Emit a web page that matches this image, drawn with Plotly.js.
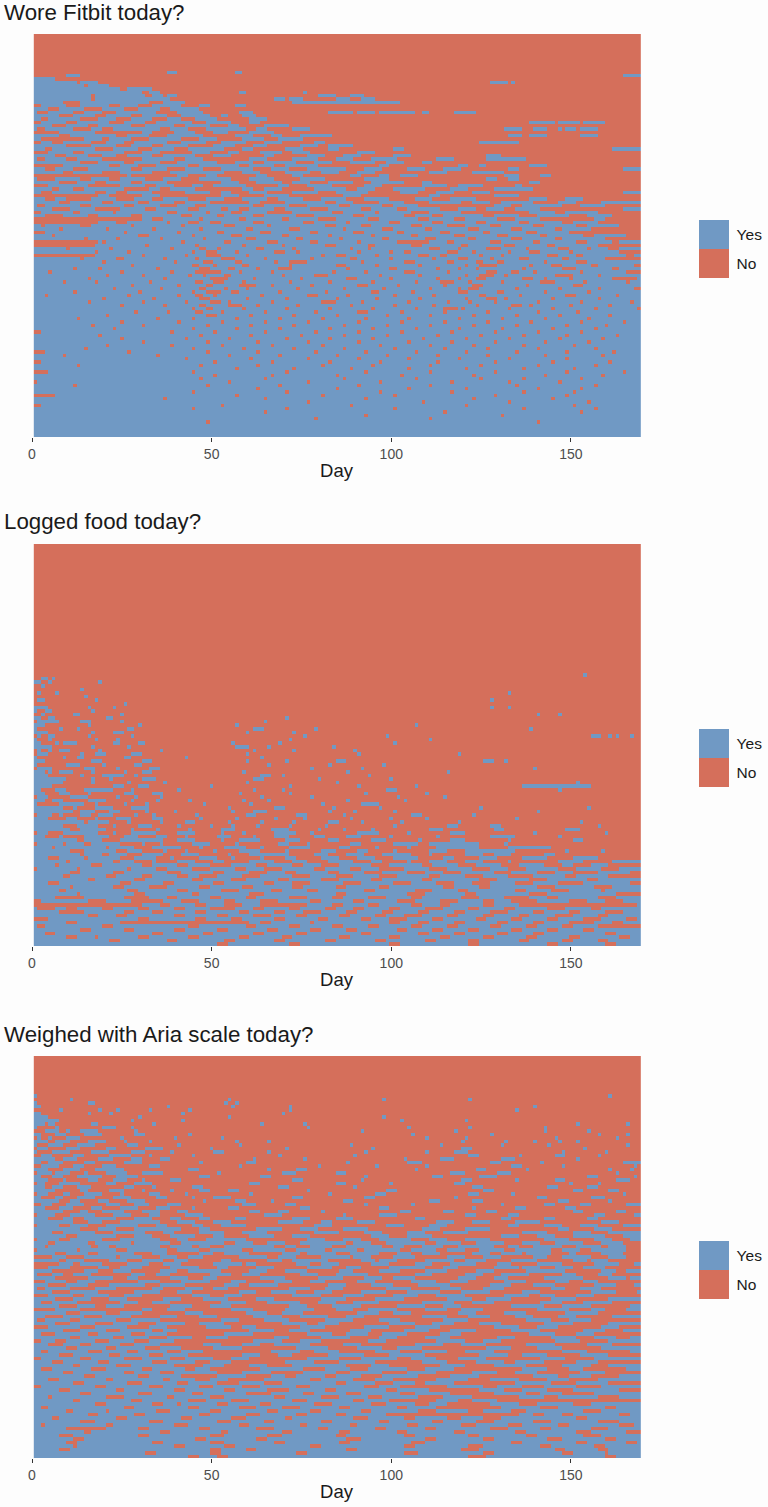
<!DOCTYPE html>
<html><head><meta charset="utf-8">
<script src="https://cdn.plot.ly/plotly-3.0.1.min.js"></script>
<style>html,body{margin:0;padding:0;background:#fdfdfd}</style></head>
<body><div id="chart" style="width:768px;height:1507px"></div>
<script>
// Each row (top to bottom): "Y ..." lists the days answered Yes (all others No);
// "N ..." lists the days answered No (all others Yes). Runs are hand-estimated by eye from the picture.
const days = Array.from({length:169},(_,i)=>i+1);
const legendLabels = ["No","Yes"];
const panelTitles = ["Wore Fitbit today?","Logged food today?","Weighed with Aria scale today?"];
const tickDays = [0,50,100,150];

const fitbitRows = [
"Y","Y","Y","Y","Y","Y","Y","Y","Y","Y","Y",
"Y 38-40 57-58",
"Y 10-13 165-169",
"Y 1-6",
"Y 1-12 14-18 128-132 134",
"Y 1-14 16-21",
"Y 1-24 27-33",
"Y 1-30 33-35 58-59 76",
"Y 1-16 18-31 34-36 38-40 80-84 89-92",
"Y 1-16 18-38 68-70 72-75 85-88 92-95",
"Y 1-8 14-32 37-42 73-94 95-102",
"N 1-2 10-13 22-24 30-33 42-46 50-56 60-169",
"N 5-7 15-19 26-29 36-38 47-169",
"N 2-4 12-14 20-23 35-40 48-57 62-82 90 96 107-108 111-117 124-169",
"N 8-11 18-20 28-30 38-41 50-52 55-58 63-169",
"N 3-4 14-18 24-27 34-37 42-45 52-60 66-169",
"N 1-2 10-12 22-25 32-34 45-48 56-60 64-138 146 153 160-169",
"N 6-9 16-18 28-31 40-42 50-54 58-64 72-169",
"N 2-3 12-16 20-22 36-38 44-48 60-62 66-72 78-131 137-139 144-146 148 152 158-169",
"N 1-7 18-30 34-39 46-50 55-60 68-169",
"N 8-10 24-26 33-37 48-56 62-66 70-74 84-132 137-138 144-152 158-169",
"N 3-14 20-21 28-32 42-46 52-58 65-68 76-169",
"N 1-2 6-8 17-20 26-28 38-41 49-52 60-64 70-78 82-124 136-169",
"N 10-16 24-27 34-36 44-50 57-61 66-74 80-82 90-169",
"N 4-5 18-22 30-33 40-43 54-58 62-70 76-82 86-100 104-161",
"N 1-4 12-14 26-30 36-44 50-54 58-63 70-72 78-90 96-169",
"N 7-9 16-19 24-26 34-36 46-50 56-64 68-76 82-86 92-100 106-126 131-169",
"N 2-3 10-12 20-30 40-42 48-60 66-72 80-84 90-94 102-112 118-126 138-169",
"N 14-18 26-28 36-40 52-56 62-64 74-78 84-88 96-98 104-108 112-169",
"N 1-8 22-24 30-34 44-46 58-60 68-70 80-96 100-118 122-124 127-138 144-169",
"N 4-6 12-15 28-30 38-42 48-52 62-66 72-76 88-92 98-104 110-114 120-132 136-164",
"N 9-11 20-24 34-38 54-58 64-70 78-80 86-90 96-110 116-122 132-169",
"N 1-26 28-40 44-48 52-62 66-72 76-88 92-96 100-102 108-131 136-141 145-169",
"N 2-6 14-16 22-24 32-36 42-46 56-60 68-74 82-92 100-126 130-132 136-169",
"N 8-12 18-20 28-30 38-52 58-62 70-72 78-82 90-94 104-108 112-138 142-169",
"N 1-4 16-24 32-34 40-44 48-50 60-68 72-76 84-92 98-108 116-118 126-134 137-169",
"N 6-7 12-14 26-32 36-38 46-58 62-64 70-78 88-90 96-100 110-116 122-128 140-169",
"N 3-5 18-20 24-26 34-42 50-52 56-60 66-72 80-84 94-102 108-112 118-122 128-164",
"N 1-18 22-30 36-52 58-64 72-86 92-110 114-128 136-169",
"N 4-6 10-16 24-28 34-36 44-48 54-58 66-68 76-80 88-92 100-106 112-116 124-138 144-148 154-169",
"N 8-10 20-22 30-32 40-42 50-60 64-70 82-84 90-96 104-110 120-122 128-130 140-146 152-158",
"N 2-3 14-16 26-28 36-40 46-48 62-64 72-76 86-88 98-100 108-128 134-136 148-152 160-169",
"N 6-10 18-24 32-34 44-46 53-54 58-60 68-70 78-82 92-94 102-104 114-118 124-126 132-134 142-164",
"N 1-2 12-13 23 38-40 49 56-58 66-72 84-86 96 106-110 120-138 146-148 158-169",
"N 4-8 16-18 28-30 42-44 52-53 62-64 74-78 90-92 104-106 112-114 126-128 136-140 150-154 162-169",
"N 1-30 34-36 47 58-59 70-71 80-84 94-96 108-110 118-120 130-134 142-156 160-169",
"N 1-18 24-26 38 44-46 50-52 62-64 76-78 88 100-102 112-114 124-126 136-138 148-150 158-169",
"N 3 14-16 28 42 54-56 66 82-84 92-94 106-108 116-120 128-130 140-142 152-154 164-169",
"N 8 21 34 47 60-61 72-74 87 98-100 110-111 122-124 134-136 146-147 156-169",
"N 1-3 26 41 52-53 64-66 78-79 90-92 102-103 114-116 126-127 138-140 150-169",
"N 6 30-32 45 56-58 70-71 83 95 106-107 118-120 130-132 142-143 154-156 166-169",
"N 15 24 36 48 60-62 74-75 86 98-99 110-112 122-123 134-136 146-147 160-169",
"N 1-18 20 42 54-55 66-68 78-79 91 102-110 116-117 128-130 140-141 152-154 162-163",
"N 1-17 32 46 59 70 82-84 94-95 106-108 120-121 132-134 144-145 158-169",
"N 10 22 39 47-48 52 63-64 73 89 94 111-113 119 127-130 138 147-149 155 161-163",
"N 18 27 45 49-51 57 68-70 74 91 100 104-105 116-118 123 133 139-141 150 164-169",
"N 1-17 31 43 49-52 60 81 85-87 96 108-110 114-115 125 131 144-146 152-153 166-167",
"N 14 24-25 37 46 53-56 65 78 89-90 100 112 119-121 128 136-138 148-149 160-169",
"N 20 40 48-50 57-58 68 72-76 92 104-106 116-117 124-125 130-131 143 152-154",
"N 28 45-46 51 59-60 72 85-87 96 108 121 125-129 139 145-147 156-157 168-169",
"N 12 19 35 47-49 55-56 63 69-72 88 100-101 113 119 124 137 148-151 162-163",
"N 5 25 39 46-52 58 67 84 93 104-106 116 127-129 134-135 140 153 166-169",
"N 21 31 44 48 54-55 70 79-82 97 108 121 125-128 132 146-150 158",
"N 16 37 50-54 62 75 88-90 100 113 119 124-126 137-139 143 150 162-168",
"N 9 18 33 46-47 51-53 59 72 83 95 107 114-117 122 131 142-145 154 166",
"N 28 41 49-50 58-62 67 78 91-93 102 115 123-125 138 151-153",
"N 23 36 47-48 54 60 74 87 98 111 119 122-124 135 147 158 168-169",
"N 12 30 45 49-52 56-57 69 82 95-96 106 119-121 130-131 143 155",
"N 4 27 41 46-47 51 64 77-79 88 101 112 125-126 136 149-151 163",
"N 20 34 47-49 60 71 85 96 108 121 127-129 132 145 158",
"N 16 31 43 50-52 55 67 81-84 92 105 116 122 129 141 153 167",
"N 25 37 47-48 55-58 63 74 89 101 112 124 134-136 139 150 161",
"N 45 49-50 59 71 83 95 107 115-118 120 133 145 157 169",
"N 29 38 46-47 53 65 79 91-93 103 115 127 141 152",
"N 21 49-51 61 73 85 99 111 123 135 147 161",
"N 13 35 45 57 69 81 93 105 119 131 143 155",
"N 25 41 53 65 77 91 103 115 127 139 153 165",
"N 17 31 49 61 73 87 99 111 123 135 149 160",
"N 23 45 57 69 83 95 107 119 131 145 157",
"N 1-2 39 51 65 79 91 103 117 129 141 153",
"N 19 47 61 75 87 99 113 125 137 149 163",
"N 25 43 55 71 83 95 109 121 133 147 159",
"N 31 49 63 77 91 105 117 129 143 155",
"N 21 39 53 67 81 97 111 123 137 151",
"N 15 45 59 73 87 101 115 127 141 157",
"N 1-3 27 49 63 79 93 107 121 135 149 162",
"N 9 35 55 69 85 99 113 127 143 159",
"N 43 61 77 91 105 119 133 149",
"N 1-2 51 67 83 97 113 129 145 161",
"N 13 47 63 81 95 111 125 141 157",
"N 57 73 89 105 121 137 151",
"N 1-4 45 71 93 111 129 149 165",
"N 51 67 85 103 123 143 159",
"N 47 65 87 107 125 137 153",
"N 1 55 77 97 117 133 147",
"N 12 49 69 91 111 135 157",
"N 63 85 105 121 141 153",
"N 45 71 97 117 137 151",
"N 1-6 57 81 101 129 149",
"N 37 65 93 123 145",
"N 77 109 133 155",
"N 1-2 53 89 121 151",
"N 45 71 101 137 157",
"N 65 115 153",
"N 93 131",
"N 79 111",
"N 49 141",
"N","N","N","N"
];

const foodRows = [
"Y","Y","Y","Y","Y","Y","Y","Y","Y","Y","Y","Y","Y","Y","Y","Y","Y","Y","Y","Y","Y","Y","Y","Y","Y","Y","Y","Y","Y","Y","Y","Y","Y","Y","Y","Y",
"Y 154","Y 3-4 6","Y 1-2 5 19","Y 3","Y 14","Y 2 7 133","Y 15","Y 2-3 18 128","Y 26",
"Y 1-4 16 23 128 133","Y 1 4-5 17","Y 3 12-13 25 141 147","Y 1-2 5-6 21-22 71","Y 2-7 14-16 25 65",
"Y 1-3 16 30 57 107","Y 1 8 13 27-28 62-64 79 139",
"Y 1-4 17 23-25 60 73","Y 2 5-6 16 28 76 99 156-158 161 163 167","Y 1 5 18 24 72 111",
"Y 1-2 7 9-12 23-24 30-31 56 69 101","Y 1-5 17 27 57-60 66 84",
"Y 2 5 8-10 19 36 62 73 90","Y 2-4 14 18-20 28-30 60 91 119","Y 1 9 13-14 26-27 43 64",
"Y 1-3 17-19 31-33 60 71 85-87 126-128 132","Y 1 10-13 20 29-30 66 83 98",
"Y 2-5 15-17 24 33-35 78 92 140","Y 1-3 5 8-11 17 26 31-33 59 88 116","Y 1-4 14 20-25 29 64-66 70 94",
"Y 1-9 17 22 31-34 62-64 80 100","Y 1-8 17 27 37 60 85 152",
"Y 1-5 23-25 30-32 50 72 91 107 137-155","Y 1-2 7-9 15-22 28 41 62 70 99-101 147","Y 1-3 8-10 16 26-28 34-36 58 72 93 110",
"Y 2-4 11-15 24 29 36 64 78 102 115","Y 1-3 6-8 16-20 28 35 44 59 66 88 104",
"Y 1 8-14 18 26 32 48 61 81 92-96","Y 1-8 12 18-22 28-32 55 68-70 84 97 125 155",
"Y 1-11 14-17 22-24 32 40 56 62-65 83 90 101 141","Y 2-5 8 14-16 19-22 29 34 46 60-62 74-76 87 106-108 123",
"Y 1-4 10-12 18 24-27 34-36 47 57 68 76 89 100 110 135","Y 1-14 16-21 27 36 43-45 55 64 73 83-85 92 103 119 153",
"Y 1-8 13-18 23 30-33 41 50 56 63 72 82 101 116-118 128-130 158",
"Y 1-10 14-20 28 35 44 53-56 67-71 80 87 95 111-114 129-131 149-152","Y 2-4 9-18 23 28-34 41-45 53 59 68-73 78 91-96 105 117-120 140 160",
"Y 1-3 8 15-21 26-29 35-37 43 52-55 62 68-71 79-81 88-91 100 113 128-134 147",
"Y 1-12 15-19 25-36 41-45 53 58-63 71-74 83-85 95-98 108 117-120 133 151-153","Y 2-8 10-14 17-24 31 36 45-49 57 69-71 77 89-91 101-107 111-124 132",
"Y 1-5 7-20 22-28 34-41 47 54-59 64 72-77 86-88 96 105 113-124 133-144","Y 1-10 15-23 27-30 37 43 51 58-63 71 81-84 91-93 101 111-115 121-134 149 159",
"Y 1-13 15-19 22-26 31-36 42-46 55 61-71 79-82 88-92 98-105 111 121-125 129-133 143-145","Y 1-4 8-14 16-24 29-34 39 47-51 56 64 71-73 81-85 91-95 101-107 115-117 125-129 137-143 151-157",
"Y 1-9 11-22 25-28 34 41-45 51-53 61-67 73-76 83-89 95-97 105 111-115 121-125 133 147-153 162-169",
"Y 1-6 8-16 20-30 34-40 44-49 56-62 66-72 76-80 86-94 100-108 112-118 124-130 136-142 148-150 156-160","Y 2-12 14-26 28-34 38-44 50-56 60-64 70-78 82-88 92-96 104-110 116-122 128-132 138-146 152-158 164-169",
"Y 1-10 14-22 26-37 42-50 54-60 66-70 74-82 86-92 98-104 110-114 120-128 134-140 146-150 158-166","Y 1-8 11-20 24-30 34-40 44-46 52-58 64-72 78-84 90-96 102-110 114-120 126-132 140-148 152-160",
"Y 1-15 18-28 32-44 48-55 60-68 72-80 86-94 98-108 112-124 130-138 144-154 158-169","Y 1-4 8-24 28-36 40-50 54-64 68-72 78-86 92-100 106-112 118-122 128-134 140-146 154-166",
"Y 1-10 12-22 26-32 38-46 50-58 62-72 76-84 88-96 100-114 118-124 128-140 146-156 162-169","Y 1-7 10-26 30-40 44-52 58-66 70-76 80-92 96-106 112-118 122-134 138-144 150-158 160-169",
"Y 1-12 14-28 32-44 47-60 65-84 88-104 110-120 124-138 144-162",
"Y 1-6 15-25 33-37 41-49 53-59 63-71 77-83 87-93 99-105 109-119 125-131 139-143 147-157 163-169",
"Y 3-15 21-27 37-41 47-53 57-63 69-77 81-89 93-101 107-113 119-125 129-133 141-149 155-159 165-169",
"N 1-30 36-38 46-48 54-58 64-76 84-86 94-96 106-108 114-116 126-128 136-168",
"N 2-6 10-12 20-22 30-32 40-42 50-56 62-64 72-74 82-84 90-92 100-102 110-114 122-124 132-134 144-148 156-158",
"N 8-14 26-28 34-36 46-48 58-60 68-70 76-80 88-90 98-100 108-110 118-120 128-132 140-142 150-152 160-164",
"N 16-18 24-26 40-42 52-54 62-66 74-76 86-88 96-98 104-108 116-118 126-128 136-138 146-150 158-160",
"N 1-4 30-32 46-48 56-58 68-70 80-82 92-94 100-104 112-114 124-126 134-136 144-146 154-158 166-168",
"N 10-12 25-60 64-66 78 100-102 108-110 118-120 130-132 140-142 150-156 162-164",
"N 2-3 20-22 44-46 60-62 72-74 84-86 94-96 106-108 116-118 128-130 138-140 148-150 158-169",
"N 14-16 26-28 40-42 52-54 66-68 78-80 88-90 102-104 112-114 122-124 134-136 144-146 154-156",
"N 4-6 34-36 48-50 62-64 74-76 92-94 108-110 118-120 130-132 140-142 160-162",
"N 10-12 18 30-32 44-46 58-60 70-72 86-88 100-102 114-116 126-128 138-140 150-152 164-166",
"N 22-24 38-40 54-56 68-70 82-84 96-98 110-112 122-124 136-138 148-150 158-160",
"N 52-54 72-74 100-102 122-124 144-146 160-162"
];

const ariaRows = [
"Y","Y","Y","Y","Y","Y","Y","Y","Y","Y","Y",
"Y 1 161",
"Y 11 55 98 122",
"Y 1 16-17 54 57",
"Y 1-2 38 56 72 140",
"Y 8 19 24 33 44 72 135",
"Y 1-2 16 22 42 70",
"Y 1-4 30 55 98",
"Y 1-7 28 42 103 121",
"Y 1-3 5-6 17-18 34 64 76 152 166",
"Y 1 7 20-23 28 77 105 122 143",
"Y 4-7 10 14-18 29 92 118 143 155",
"Y 1-2 7-9 15-19 29-31 44 106 128 158 166",
"Y 2 5 10-13 25 40 53 110 121 146 163",
"Y 1-4 7-10 16-20 26 33 57 66 120 132 140 147 152",
"Y 1 5-8 13-17 27-29 41 58 89 114 131 144 166",
"Y 2-4 10-13 21-23 32-36 50 71 95 120-122 154",
"Y 1 6-10 17-21 28-31 39 51-53 66 93 110 118-121 148 160",
"Y 3-5 12-14 22-27 33 45 69 90 122-124 136 146-148 158",
"Y 1-6 9-12 19-22 28-30 36-38 62 76 104 114-117 131-134 152",
"Y 1-2 5-8 15-17 26-30 47 60-62 88 105-108 128-130 142 165-169",
"Y 3-7 12-14 20-23 33-35 58 80 96 110 134-136 148 168",
"Y 1-4 9-13 18-25 44-46 66 74-76 107 124-126 138 161 167",
"Y 2-5 7-10 15 21-26 31-36 52 70-73 85-87 117-120 130-133 163",
"Y 1-2 6-8 13-19 24-29 47-49 64-66 93 112-114 125-129 155-157 168",
"Y 1-4 9 16-18 23-26 31 39-41 73-75 92 120-122 135 146-148 163-166",
"Y 2-3 8-13 21-23 29-33 61-63 85-87 100 118-120 150 158",
"Y 1-3 6-8 13-16 26-28 34 45-47 69-71 90 123-125 144-146 155-157",
"Y 1-6 14-15 22-25 31 39 47-49 55-57 77 99-101 126-128 151-153 161-163",
"Y 2-4 9-10 15-19 25 33-35 43 61 83 96-98 122-124 134 165",
"Y 1-2 7-8 13-17 23-27 35-37 45 51-55 73-75 93-95 118 141-143 156-159",
"Y 1-7 11-13 19-21 27-31 48 57-59 67 87-89 111-113 123-125 147-149 161",
"Y 3-5 10-14 21-24 29-32 38-41 59-62 71-73 93 106 131 143-145 153-155 166-169",
"Y 1-3 8-11 17-19 25-29 35-38 45 55-57 75-77 97-99 123 135-137 149-151",
"Y 1-8 14-15 20-25 31-35 41-43 61-63 69-71 81 103-105 115-117 127-129 151-153 163-165",
"Y 2-6 11-17 23-27 33-35 43-47 65-69 87 97-101 121-123 133-135 157-159 168-169",
"Y 1-4 9-11 15-23 29-33 39-41 47-49 57-59 73-77 85-89 107-109 131-133 143-145 155-157",
"Y 1-11 16-19 25-35 41-45 51-55 69-75 81-83 91-95 113-117 123-127 135-141 159-163",
"Y 2-7 11-15 21-29 35-37 45-47 53-59 79-83 99-103 111-115 133-135 143-147 153-157 165-169",
"Y 1-13 19-23 29-41 47-49 63-69 75-79 87-93 109-113 121-127 147-149 157-161",
"Y 1-5 9-17 23-31 37-39 47-53 59-65 79-85 93-97 105-109 115-121 137-143 151-155 161-169",
"Y 1-9 13-23 29-33 39-45 51-53 61-67 73-77 95-99 105-111 131-135 141-145 151-159 165-169",
"Y 2-7 11-19 25-35 41-43 49-59 77-81 87-91 97-105 111-115 121-127 143-149 157-161 167-169",
"Y 1-4 7-15 18-27 29-38 42-53 57-61 66-70 75-87 90-94 99-109 113-119 124-131 137-141 146-153 159-164",
"Y 1-3 5-16 19-21 24-35 39-44 47-49 54-67 71-73 78-83 88-97 101-103 109-114 119-128 133-135 140-147 152-158 161-165",
"Y 2-12 14-23 27-37 41-46 50-58 62-70 74-81 84-90 93-102 106-112 116-120 125-131 135-144 148-152 156-165",
"Y 1-6 10-15 19-28 34-37 47-50 54-60 70-74 77-84 89-96 102-105 109-113 123-127 131-136 138-144 150-151 159-164",
"Y 6-9 15-23 25-30 36-40 44-47 58-65 69-73 81-88 90-94 101-106 116-120 126-130 140-143 148-155 161-165",
"Y 1-7 10-14 22-26 31-36 40-43 53-55 66-69 73-82 92-95 97-101 110-117 121-126 134-140 151-154 156-160",
"Y 8-11 14-19 27-32 37-41 51-58 60-62 74-77 81-85 95-99 107-111 117-123 130-133 141-147 157-163 168-169",
"Y 5-10 19-21 25-30 39-46 52-54 63-67 77-83 88-91 100-109 115-118 129-135 137-141 146-150 154-159",
"N 6-14 19-22 28-35 41-43 53-60 66-70 77-85 90-96 103-109 116-123 129-137 149-158 163-165",
"N 2-5 9-11 17-27 32-34 39-49 56-58 64-74 80-84 94-106 112-120 126-130 139-147 152-157 162-169",
"N 7-15 23-26 30-38 44-47 52-63 71-79 87-92 98-100 107-118 124-128 133-142 154-160 166",
"N 1-3 10-12 18-29 36-41 50-55 60-67 73-77 82-90 96-105 113-116 122-131 138-145 150-153 158-169",
"N 5-9 16-21 32-35 43-53 58-60 69-82 88-94 101-107 117-127 134-139 146-156 163-167",
"N 2-3 11-17 24-33 37-42 48-50 55-71 78-81 87-98 106-113 120-125 132-144 149-152 159-169",
"N 6-10 19-28 36-40 45-57 63-66 74-78 84-91 99-104 114-119 128-136 142-155 163-168",
"N 1-4 12-14 22-25 31-44 50-53 59-72 81-86 93-100 108-112 121-131 139-141 146-151 157-169",
"N 7-11 17-21 27-36 42-47 55-62 68-80 88-95 104-115 123-126 134-144 152-160",
"N 3-5 13-24 30-33 39-52 60-65 75-79 85-89 97-108 118-122 129-141 148-153 162-169",
"N 8-12 18-20 26-38 45-49 56-71 77-83 92-101 110-114 120-133 143-147 156-166",
"N 1-6 14-30 34-37 43-55 62-70 79-84 90-93 102-109 116-119 126-140 150-155 160-165",
"N 10-13 21-24 31-42 48-59 66-69 76-90 97-100 106-118 124-131 138-148 158-169",
"N 4-8 15-19 28-35 41-46 52-61 70-74 83-87 93-108 116-121 128-134 140-146 152-161",
"N 2-3 11-13 24-27 36-52 58-64 72-81 90-96 103-114 122-137 145-149 156-169",
"N 7-10 18-22 30-34 43-46 54-69 77-79 86-99 107-111 118-124 131-142 151-160",
"N 1-4 14-17 27-32 38-48 56-58 63-74 82-92 100-106 114-128 136-140 147-158 164-169",
"N 9-13 21-24 34-36 41-60 68-71 78-88 95-103 111-116 124-133 142-153 160-164",
"N 3-6 16-18 28-31 38-53 62-76 84-87 94-97 105-113 120-138 146-151 157-169",
"N 11-13 23-25 33-37 45-48 55-67 72-80 89-96 102-109 117-129 135-144 152-156 163-166",
"N 1-2 7-9 18-21 29-32 40-61 70-74 81-93 99-112 121-125 131-145 153-160",
"N 5-8 14-16 25-28 36-47 53-58 64-67 78-86 92-106 115-119 127-137 146-154 162-169",
"N 10-12 21-23 32-35 42-50 59-73 83-90 98-101 109-126 134-140 148-158",
"N 3-4 16-19 27-29 38-41 48-66 75-78 86-95 103-108 116-120 129-147 155-166",
"N 8-11 22-24 33-36 44-58 64-68 73-82 93-99 110-124 133-136 144-152 161-169",
"N 1-2 14-16 26-30 39-42 51-55 61-76 86-91 102-105 113-118 127-141 149-156",
"N 6-8 19-21 34-37 46-49 56-70 79-85 96-108 116-123 132-134 143-151 158-169",
"N 12-13 24-27 40-47 54-60 66-72 88-94 100-113 121-128 138-147 156-160",
"N 3-5 17-20 31-33 43-45 50-63 76-81 89-93 105-109 118-136 144-149 154-165",
"N 9-11 26-28 36-39 52-58 67-75 85-88 98-104 113-122 130-134 141-152 160-169",
"N 15-17 30-32 42-51 60-66 71-73 82-84 92-97 108-116 125-139 147-149 156-163",
"N 5-7 21-22 37-38 46-49 55-64 78-80 90-95 101-112 122-127 136-143 150-157",
"N 12-14 27-30 41-43 52-57 65-69 85-87 96-100 107-109 118-134 145-151 161-169",
"N 1-2 18-20 33-36 47-50 59-63 74-77 93-96 103-115 126-129 137-142 152-158",
"N 8-10 24-25 40-42 54-56 66-71 82-84 99-101 111-124 132-136 144-150 164-169",
"N 14-16 30-33 45-47 60-66 76-78 88-91 103-106 117-128 138-141 148-156",
"N 5 21-25 38-39 50-53 68-70 81-85 94-97 108-114 123-135 143-146 158-163",
"N 12-13 28-30 44-48 56-60 73-76 90-92 100-112 119-122 130-169",
"N 18-20 34-36 41 52-54 64-66 79-83 95-98 107-110 116-127 136-140 151-155",
"N 3-4 26-28 44-46 58-62 70-74 86-88 102-104 113-130 142-146 160-162",
"N 10-11 21 35-38 50-52 66-68 78-80 92-94 108-112 122-125 134-137 154-158",
"N 16-18 29-31 47-49 60-63 74-76 85-87 99-135 140-142 148-150 164-166",
"N 6-7 24-26 42-44 56-59 71-72 90-93 104-106 116-119 126-130 152-154",
"N 14-17 33-36 52-55 65-67 81-83 97-99 112-114 124-128 140-144 158-163",
"N 3 21-22 40-43 58-60 75-76 89-90 105-107 120-123 133-136 147-149 164-167",
"N 10-20 30-32 47-49 63-67 80-82 96-98 110-112 128-132 142-144 156-160",
"N 15-16 36-38 53-54 70-72 86-88 102-104 118-120 135-137 152-155 166-169",
"N 8-11 30-32 50-53 66-69 85-87 104-106 122-124 138-140 154-158",
"N 12-14 46-48 63-65 88-91 110-112 126-128 144-147 160-162",
"N 10-12 34-36 50-53 68-70 86-88 106-109 134-136 152-154 166-168",
"N 12 40-42 54-56 78-80 104-106 122-125 142-144 157-159",
"N 8-10 50-52 60-62 88-90 120-124 146-148 158-160",
"N 32-34 50-52 74-76 104-107 126-128 148-150 160",
"N 44-46 52-54 122-126 160-162"
];

function decode(rows){
  return rows.map(row=>{
    const parts=row.trim().split(/\s+/);
    const listed=parts[0]==="Y"?1:0;
    const cells=days.map(()=>1-listed);
    parts.slice(1).forEach(run=>{
      const [a,b]=run.split("-").map(Number);
      for(let d=a;d<=(b||a);d++){ if(d>=1&&d<=169) cells[d-1]=listed; }
    });
    return cells;
  });
}

const RED="#d56f5b", BLUE="#7099c4", PAPER="#fdfdfd";
const W=768,H=1507,left=32,right=641;
const panels=[
 {rows:fitbitRows,top:34,bottom:437,tt:13,leg:249},
 {rows:foodRows,top:544,bottom:946,tt:522,leg:758},
 {rows:ariaRows,top:1056,bottom:1458,tt:1034,leg:1270}
];
const traces=[],layout={width:W,height:H,margin:{l:0,r:0,t:0,b:0},paper_bgcolor:PAPER,plot_bgcolor:PAPER,showlegend:false,annotations:[],
  font:{family:"Liberation Sans, Arial, sans-serif"}};
panels.forEach((p,i)=>{
  const s=i===0?"":String(i+1);
  const ys=p.rows.map((_,r)=>r+1);
  traces.push({type:"heatmap",x:days,y:ys,z:decode(p.rows),xaxis:"x"+s,yaxis:"y"+s,zmin:0,zmax:1,
    colorscale:[[0,RED],[0.495,RED],[0.495,PAPER],[0.505,PAPER],[0.505,BLUE],[1,BLUE]],
    hoverongaps:false,
    colorbar:{x:699/W,xanchor:"left",y:1-p.leg/H,yanchor:"middle",lenmode:"pixels",len:58,thicknessmode:"pixels",thickness:30,
      xpad:0,ypad:0,outlinewidth:0,borderwidth:0,ticks:"outside",ticklen:5,tickcolor:"rgba(0,0,0,0)",tickmode:"array",tickvals:[0.75,0.25],ticktext:[legendLabels[1],legendLabels[0]],
      tickfont:{size:15.5,color:"#1a1a1a"}}});
  layout["xaxis"+s]={domain:[left/W,right/W],range:[0,169.5],anchor:"y"+s,tickmode:"array",tickvals:tickDays,ticktext:tickDays.map(String),
    ticks:"outside",ticklen:4,tickwidth:1,tickcolor:"#333333",tickfont:{size:14,color:"#4d4d4d"},showgrid:false,zeroline:false,showline:false,
    title:{text:"Day",font:{size:18.5,color:"#1a1a1a"},standoff:3}};
  layout["yaxis"+s]={domain:[1-p.bottom/H,1-p.top/H],range:[p.rows.length+0.5,0.5],anchor:"x"+s,visible:false};
  layout.annotations.push({xref:"paper",yref:"paper",x:2/W,y:1-p.tt/H,xanchor:"left",yanchor:"middle",showarrow:false,text:panelTitles[i],font:{size:22.3,color:"#1a1a1a"}});
});
Plotly.newPlot("chart",traces,layout,{displayModeBar:false,staticPlot:true});
</script></body></html>
